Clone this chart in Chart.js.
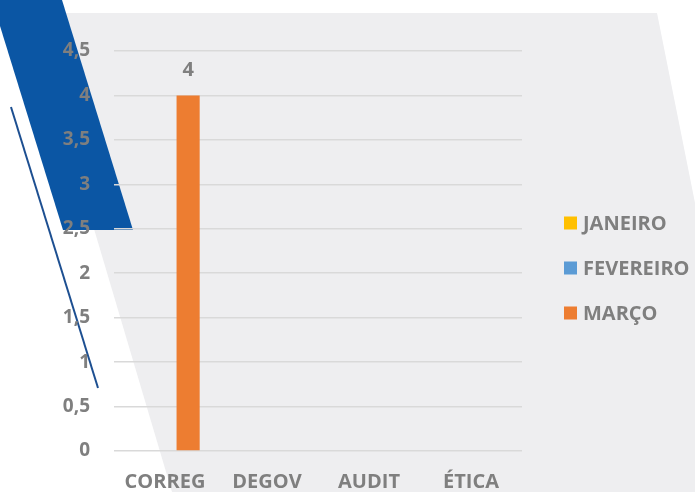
<!DOCTYPE html>
<html>
<head>
<meta charset="utf-8">
<script src="https://cdn.jsdelivr.net/npm/chart.js@4"></script>
<style>
  html, body { margin: 0; padding: 0; background: #ffffff; }
  #wrap { width: 695px; height: 492px; }
</style>
</head>
<body>
<div id="wrap"><canvas id="c" width="695" height="492"></canvas></div>
<script>
// Categories, series and values
const categories = ['CORREG', 'DEGOV', 'AUDIT', 'ÉTICA'];
const seriesNames = ['JANEIRO', 'FEVEREIRO', 'MARÇO'];
const janeiro = [0, 0, 0, 0];
const fevereiro = [0, 0, 0, 0];
const marco = [4, 0, 0, 0];
const yTicks = [0, 0.5, 1, 1.5, 2, 2.5, 3, 3.5, 4, 4.5];

const seriesColors = ['#FFC000', '#5B9BD5', '#ED7D31'];
const textGray = '#7f7f7f';
const fontFamily = "'Open Sans', 'Liberation Sans', sans-serif";

// Decorative backdrop: grey panel, blue band and thin stroke
const backdrop = {
  id: 'backdrop',
  beforeDraw(chart) {
    const ctx = chart.ctx;
    ctx.save();
    ctx.fillStyle = '#ffffff';
    ctx.fillRect(0, 0, chart.width, chart.height);

    ctx.fillStyle = '#eeeef0';
    ctx.beginPath();
    ctx.moveTo(30, 13);
    ctx.lineTo(657, 13);
    ctx.lineTo(695, 203);
    ctx.lineTo(695, 492);
    ctx.lineTo(172, 492);
    ctx.closePath();
    ctx.fill();

    ctx.fillStyle = '#0b56a4';
    ctx.beginPath();
    ctx.moveTo(-8, 0);
    ctx.lineTo(62, 0);
    ctx.lineTo(133, 230);
    ctx.lineTo(63, 230);
    ctx.closePath();
    ctx.fill();

    ctx.strokeStyle = '#1d4f91';
    ctx.lineWidth = 2;
    ctx.beginPath();
    ctx.moveTo(11, 107);
    ctx.lineTo(98, 388);
    ctx.stroke();
    ctx.restore();
  }
};

// Value labels above non-zero bars
const valueLabels = {
  id: 'valueLabels',
  afterDatasetsDraw(chart) {
    const ctx = chart.ctx;
    ctx.save();
    ctx.fillStyle = textGray;
    ctx.font = 'bold 20px ' + fontFamily;
    ctx.textAlign = 'center';
    ctx.textBaseline = 'middle';
    chart.data.datasets.forEach((ds, di) => {
      chart.getDatasetMeta(di).data.forEach((bar, i) => {
        const v = ds.data[i];
        if (v) ctx.fillText(String(v).replace('.', ','), bar.x, bar.y - 25);
      });
    });
    ctx.restore();
  }
};

// Legend on the right side
const sideLegend = {
  id: 'sideLegend',
  afterDraw(chart) {
    const ctx = chart.ctx;
    const x0 = chart.chartArea.right + 42;
    ctx.save();
    ctx.font = 'bold 20px ' + fontFamily;
    ctx.textBaseline = 'middle';
    ctx.textAlign = 'left';
    chart.data.datasets.forEach((ds, i) => {
      const cy = 223 + 45 * i;
      ctx.fillStyle = ds.backgroundColor;
      ctx.fillRect(x0, cy - 6.5, 13, 13);
      ctx.fillStyle = textGray;
      ctx.fillText(ds.label, x0 + 19, cy + 1);
    });
    ctx.restore();
  }
};

const seriesValues = [janeiro, fevereiro, marco];

new Chart(document.getElementById('c'), {
  type: 'bar',
  data: {
    labels: categories,
    datasets: seriesNames.map((name, i) => ({
      label: name,
      data: seriesValues[i],
      backgroundColor: seriesColors[i],
      borderWidth: 0,
      categoryPercentage: 0.68,
      barPercentage: 1
    }))
  },
  options: {
    responsive: false,
    animation: false,
    layout: { padding: { top: 51, right: 173, left: 0, bottom: 0 } },
    plugins: {
      legend: { display: false },
      tooltip: { enabled: false }
    },
    scales: {
      x: {
        grid: { display: false },
        border: { display: false },
        ticks: {
          color: textGray,
          font: { family: fontFamily, size: 20, weight: 'bold' },
          padding: 11,
          maxRotation: 0
        },
        afterFit(scale) { scale.height = 41; }
      },
      y: {
        min: 0,
        max: 4.5,
        afterBuildTicks(scale) { scale.ticks = yTicks.map(v => ({ value: v })); },
        grid: { color: '#d9d9d9', lineWidth: 1.5, drawTicks: false },
        border: { display: false },
        ticks: {
          color: textGray,
          font: { family: fontFamily, size: 19, weight: 'bold' },
          padding: 24,
          callback: v => String(v).replace('.', ',')
        },
        afterFit(scale) { scale.width = 114; }
      }
    }
  },
  plugins: [backdrop, valueLabels, sideLegend]
});
</script>
</body>
</html>
